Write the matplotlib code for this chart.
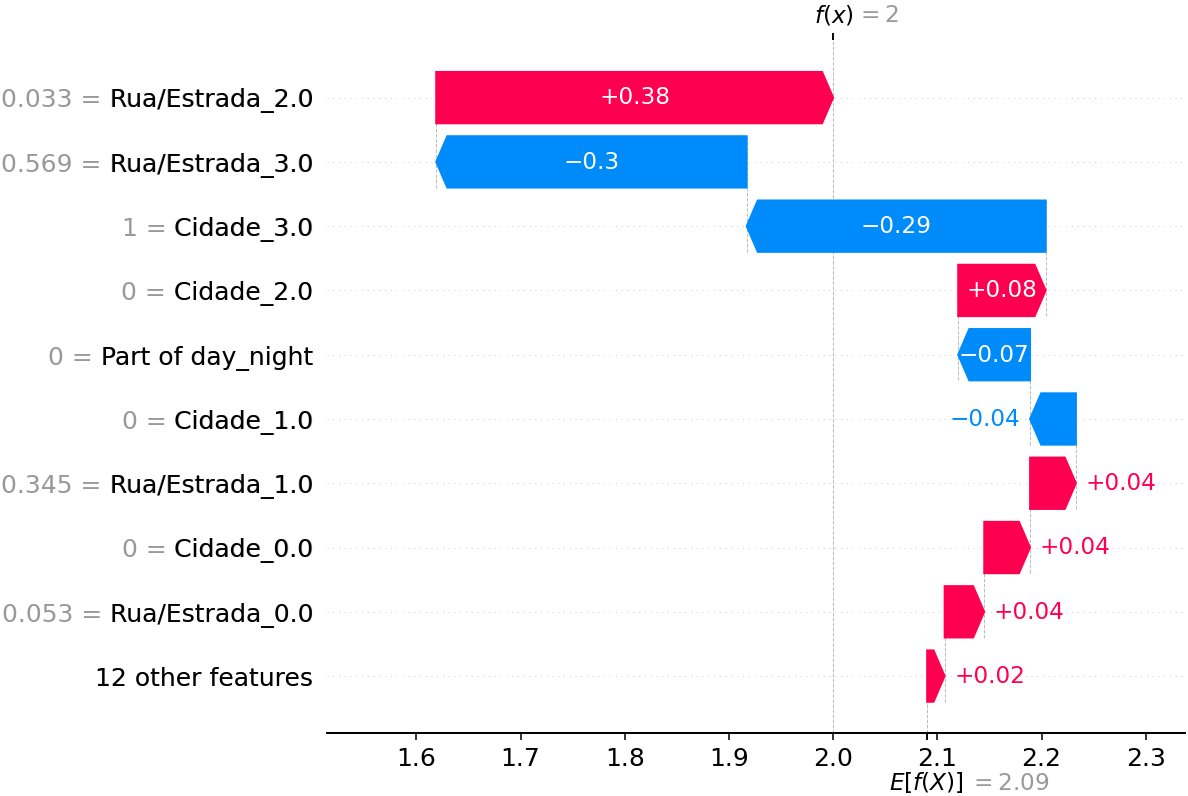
# ===================== #
# IMPORTACIONES GLOBALES
# ===================== #
import re
import numpy as np
import matplotlib
matplotlib.use("Agg")
import matplotlib.pyplot as plt
from matplotlib.transforms import ScaledTranslation

# ============ #
# DATOS
# ============ #
nombres = ["Rua/Estrada_2.0", "Rua/Estrada_3.0", "Cidade_3.0", "Cidade_2.0",
           "Part of day_night", "Cidade_1.0", "Rua/Estrada_1.0", "Cidade_0.0",
           "Rua/Estrada_0.0"]
valores_feature = [0.033, 0.569, 1, 0, 0, 0, 0.345, 0, 0.053]
valores_shap = [0.381, -0.298, -0.287, 0.084, -0.069, -0.044, 0.044, 0.044, 0.038]
num_otras = 12
valor_otras = 0.0168
valor_base = 2.0902

ROJO = (1.0, 0.0, 0.31796406)
AZUL = (0.0, 0.54337757, 0.98337906)


def format_value(v, fmt):
    s = fmt % v
    s = re.sub(r'\.?0+$', '', s)
    if s[0] == "-":
        s = "\u2212" + s[1:]
    return s


# ========================================= #
# FUNCIÓN: gráfica waterfall (estilo shap)
# ========================================= #
def dibujar_waterfall(fig, ax):
    num_features = len(nombres) + 1
    rng = range(num_features - 1, -1, -1)
    fx = valor_base + sum(valores_shap) + valor_otras
    loc = fx
    yticklabels = ["" for _ in range(num_features + 1)]

    pos_lefts, pos_inds, pos_widths = [], [], []
    neg_lefts, neg_inds, neg_widths = [], [], []

    for i, sval in enumerate(valores_shap):
        loc -= sval
        if sval >= 0:
            pos_inds.append(rng[i])
            pos_widths.append(sval)
            pos_lefts.append(loc)
        else:
            neg_inds.append(rng[i])
            neg_widths.append(sval)
            neg_lefts.append(loc)
        ax.plot([loc, loc], [rng[i] - 1 - 0.4, rng[i] + 0.4],
                color="#bbbbbb", linestyle="--", linewidth=0.5, zorder=-1)
        yticklabels[rng[i]] = format_value(float(valores_feature[i]), "%0.03f") + " = " + nombres[i]

    # grupo "otras features"
    yticklabels[0] = "%d other features" % num_otras
    remaining = valor_base - loc
    if remaining < 0:
        pos_inds.append(0)
        pos_widths.append(-remaining)
        pos_lefts.append(loc + remaining)
    else:
        neg_inds.append(0)
        neg_widths.append(-remaining)
        neg_lefts.append(loc + remaining)

    points = pos_lefts + list(np.array(pos_lefts) + np.array(pos_widths)) + \
        neg_lefts + list(np.array(neg_lefts) + np.array(neg_widths))
    dataw = np.max(points) - np.min(points)

    # barras invisibles para el tamaño de los ejes
    pad = np.array([0.1 * dataw if w < 1 else 0 for w in pos_widths])
    ax.barh(pos_inds, np.array(pos_widths) + pad + 0.02 * dataw,
            left=np.array(pos_lefts) - 0.01 * dataw, color=ROJO, alpha=0)
    pad = np.array([-0.1 * dataw if -w < 1 else 0 for w in neg_widths])
    ax.barh(neg_inds, np.array(neg_widths) + pad - 0.02 * dataw,
            left=np.array(neg_lefts) + 0.01 * dataw, color=AZUL, alpha=0)

    head_length = 0.08
    bar_width = 0.8
    xlen = ax.get_xlim()[1] - ax.get_xlim()[0]
    bbox = ax.get_window_extent().transformed(fig.dpi_scale_trans.inverted())
    bbox_to_xscale = xlen / bbox.width
    hl_scaled = bbox_to_xscale * head_length
    renderer = fig.canvas.get_renderer()

    # flechas positivas
    for i in range(len(pos_inds)):
        dist = pos_widths[i]
        arrow = ax.arrow(pos_lefts[i], pos_inds[i], max(dist - hl_scaled, 0.000001), 0,
                         head_length=min(dist, hl_scaled), color=ROJO,
                         width=bar_width, head_width=bar_width)
        txt = ax.text(pos_lefts[i] + 0.5 * dist, pos_inds[i], format_value(dist, '%+0.02f'),
                      ha='center', va='center', color="white", fontsize=12)
        if txt.get_window_extent(renderer=renderer).width > arrow.get_window_extent(renderer=renderer).width:
            txt.remove()
            ax.text(pos_lefts[i] + (5 / 72) * bbox_to_xscale + dist, pos_inds[i],
                    format_value(dist, '%+0.02f'), ha='left', va='center',
                    color=ROJO, fontsize=12)

    # flechas negativas
    for i in range(len(neg_inds)):
        dist = neg_widths[i]
        arrow = ax.arrow(neg_lefts[i], neg_inds[i], -max(-dist - hl_scaled, 0.000001), 0,
                         head_length=min(-dist, hl_scaled), color=AZUL,
                         width=bar_width, head_width=bar_width)
        txt = ax.text(neg_lefts[i] + 0.5 * dist, neg_inds[i], format_value(dist, '%+0.02f'),
                      ha='center', va='center', color="white", fontsize=12)
        if txt.get_window_extent(renderer=renderer).width > arrow.get_window_extent(renderer=renderer).width:
            txt.remove()
            ax.text(neg_lefts[i] - (5 / 72) * bbox_to_xscale + dist, neg_inds[i],
                    format_value(dist, '%+0.02f'), ha='right', va='center',
                    color=AZUL, fontsize=12)

    # etiquetas y: gris completas y encima en negro solo el nombre
    ytick_pos = list(range(num_features)) + list(np.arange(num_features) + 1e-8)
    ax.set_yticks(ytick_pos)
    ax.set_yticklabels(yticklabels[:-1] + [l.split('=')[-1] for l in yticklabels[:-1]], fontsize=13)

    for i in range(num_features):
        ax.axhline(i, color="#cccccc", lw=0.5, dashes=(1, 5), zorder=-1)

    ax.axvline(valor_base, 0, 1 / num_features, color="#bbbbbb", linestyle="--", linewidth=0.5, zorder=-1)
    ax.axvline(fx, 0, 1, color="#bbbbbb", linestyle="--", linewidth=0.5, zorder=-1)

    ax.xaxis.set_ticks_position('bottom')
    ax.yaxis.set_ticks_position('none')
    for lado in ['right', 'top', 'left']:
        ax.spines[lado].set_visible(False)
    ax.tick_params(labelsize=13)

    # marca E[f(X)]
    xmin, xmax = ax.get_xlim()
    ax2 = ax.twiny()
    ax2.set_xlim(xmin, xmax)
    ax2.set_xticks([valor_base, valor_base + 1e-8])
    ax2.set_xticklabels(["\n$E[f(X)]$", "\n$ = " + format_value(valor_base, "%0.03f") + "$"],
                        fontsize=12, ha="left")
    for lado in ['right', 'top', 'left']:
        ax2.spines[lado].set_visible(False)

    # marca f(x)
    ax3 = ax2.twiny()
    ax3.set_xlim(xmin, xmax)
    ax3.set_xticks([fx, fx + 1e-8])
    ax3.set_xticklabels(["$f(x)$", "$ = " + format_value(fx, "%0.03f") + "$"], fontsize=12, ha="left")
    tl = ax3.xaxis.get_majorticklabels()
    tl[0].set_transform(tl[0].get_transform() + ScaledTranslation(-10 / 72., 0, fig.dpi_scale_trans))
    tl[1].set_transform(tl[1].get_transform() + ScaledTranslation(12 / 72., 0, fig.dpi_scale_trans))
    tl[1].set_color("#999999")
    for lado in ['right', 'top', 'left']:
        ax3.spines[lado].set_visible(False)

    # subir un poco E[f(X)] para que no se corte abajo
    tl = ax2.xaxis.get_majorticklabels()
    tl[0].set_transform(tl[0].get_transform() + ScaledTranslation(-20 / 72., 2 / 72., fig.dpi_scale_trans))
    tl[1].set_transform(tl[1].get_transform() + ScaledTranslation(22 / 72., 1 / 72., fig.dpi_scale_trans))
    tl[1].set_color("#999999")

    tl = ax.yaxis.get_majorticklabels()
    for i in range(num_features):
        tl[i].set_color("#999999")


# ============ #
# BLOQUE MAIN
# ============ #
if __name__ == "__main__":
    dpi = 138.5
    fig = plt.figure(figsize=(1188.3 / dpi, 796.3 / dpi), dpi=dpi)
    ax = fig.add_axes([326.7 / 1188, 62.7 / 796, 858.3 / 1188, 692.6 / 796])
    dibujar_waterfall(fig, ax)
    fig.savefig("out.png", dpi=dpi)
    plt.close(fig)
